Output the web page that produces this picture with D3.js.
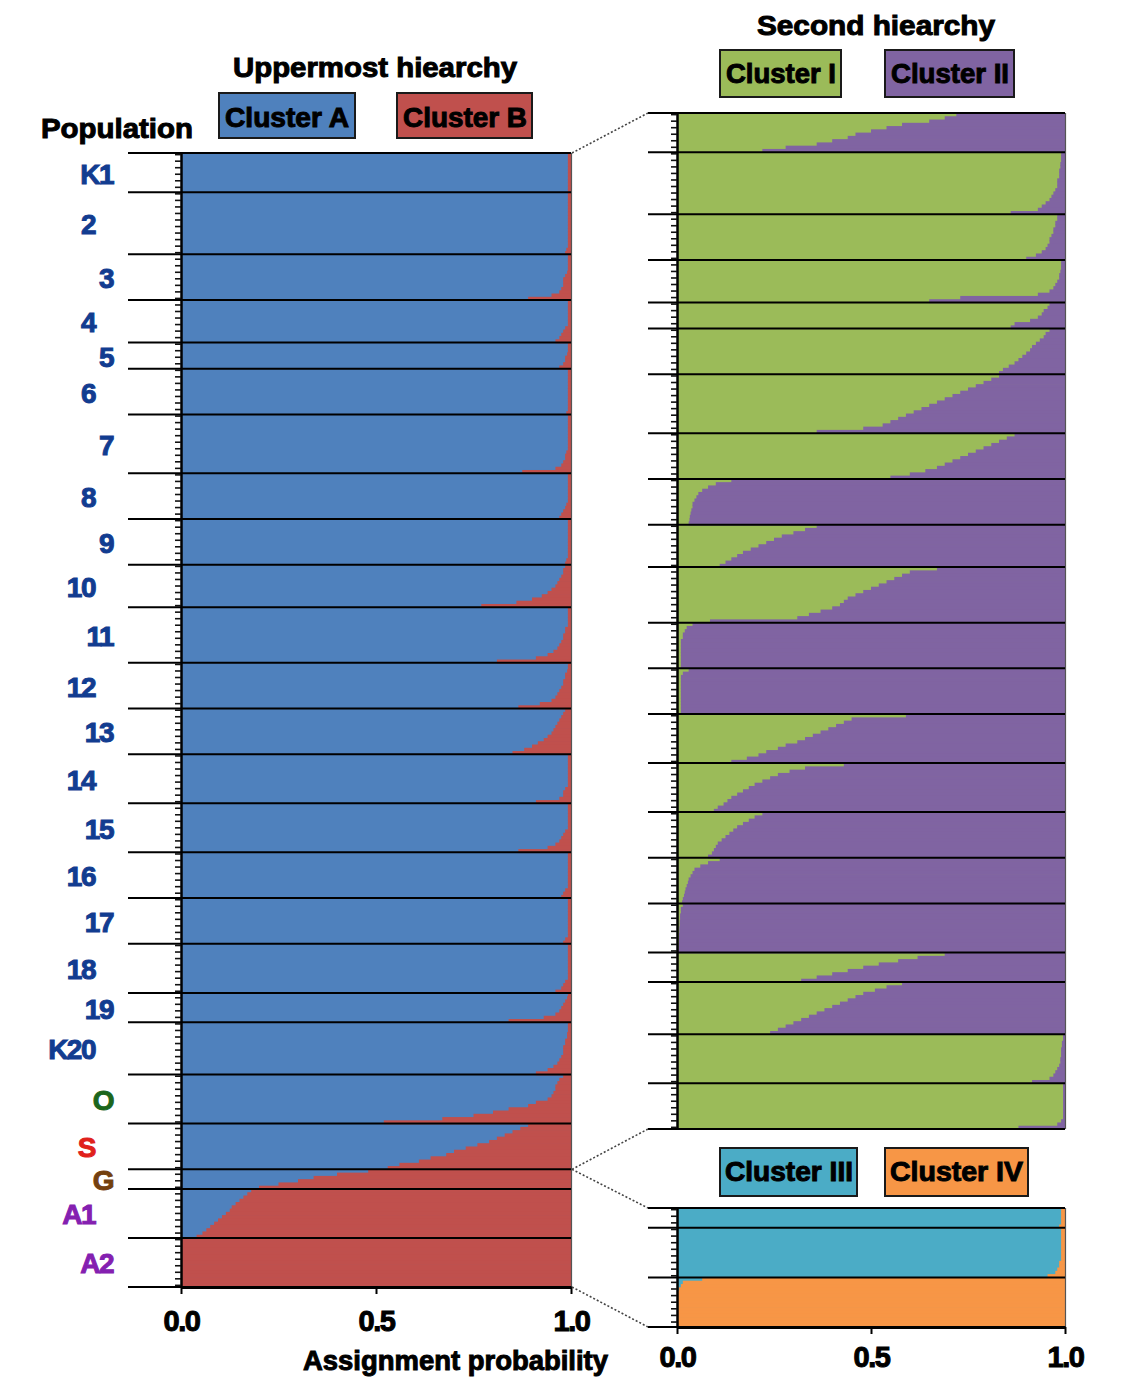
<!DOCTYPE html>
<html><head><meta charset="utf-8">
<script src="https://cdn.jsdelivr.net/npm/d3@7"></script>
<style>
body{margin:0;background:#fff;}
svg{display:block;}
text{font-family:"Liberation Sans",Arial,sans-serif;font-weight:bold;}
</style>
</head><body>
<svg id="chart" width="1143" height="1379"></svg>
<script>
// ---------------- DATA ----------------
const populations = ["K1","2","3","4","5","6","7","8","9","10","11","12","13","14","15","16","17","18","19","K20","O","S","G","A1","A2"];

// Uppermost hierarchy: membership in Cluster B per individual (rest = Cluster A), sorted within population
const clusterB = [
  [.008,.008,.008,.008,.008,.008,.008,.008,.008,.008,.008,.008],
  [.008,.008,.008,.008,.008,.008,.008,.008,.008,.008,.008,.008,.008,.008,.008,.008,.008,.012,.015],
  [.008,.008,.008,.008,.008,.01,.015,.02,.02,.02,.025,.03,.05,.11],
  [.008,.008,.008,.008,.008,.008,.008,.008,.015,.02,.025,.03,.04],
  [.008,.008,.008,.01,.015,.015,.02,.03],
  [.008,.008,.008,.008,.008,.008,.008,.008,.008,.008,.008,.008,.008,.012],
  [.008,.008,.008,.008,.008,.008,.008,.008,.008,.008,.008,.012,.015,.015,.02,.025,.04,.125],
  [.008,.008,.008,.008,.008,.008,.008,.008,.008,.012,.015,.02,.025,.03],
  [.008,.008,.008,.008,.008,.008,.008,.008,.008,.008,.008,.008,.012,.015],
  [.015,.02,.02,.025,.03,.035,.04,.05,.06,.075,.1,.14,.23],
  [.008,.008,.008,.008,.008,.008,.015,.015,.02,.02,.025,.03,.035,.045,.06,.09,.19],
  [.008,.008,.01,.015,.015,.02,.02,.025,.03,.035,.04,.05,.08,.135],
  [.015,.02,.025,.03,.035,.04,.045,.05,.06,.07,.085,.1,.12,.15],
  [.008,.008,.008,.008,.008,.008,.008,.008,.008,.008,.015,.02,.02,.03,.09],
  [.008,.008,.008,.008,.008,.008,.008,.008,.015,.02,.025,.03,.04,.06,.135],
  [.008,.008,.008,.008,.008,.008,.008,.008,.008,.008,.008,.015,.02,.025],
  [.008,.008,.008,.008,.008,.008,.008,.008,.008,.008,.008,.008,.015,.02],
  [.008,.008,.008,.008,.008,.008,.008,.008,.008,.008,.008,.015,.02,.025,.04],
  [.008,.01,.015,.02,.025,.03,.04,.07,.16],
  [.008,.008,.008,.01,.01,.015,.015,.02,.02,.02,.025,.03,.035,.045,.06,.09],
  [.02,.03,.035,.04,.04,.045,.05,.06,.09,.11,.16,.2,.25,.33,.48],
  [.11,.13,.15,.17,.19,.21,.24,.27,.3,.32,.36,.39,.44,.47],
  [.52,.6,.66,.7,.75,.8],
  [.82,.83,.84,.85,.86,.87,.875,.885,.895,.905,.915,.925,.935,.945,.96],
  [1,1,1,1,1,1,1,1,1,1,1,1,1,1,1]
];

// Second hierarchy (K1..S): membership in Cluster II (rest = Cluster I)
const clusterII = [
  [.28,.31,.35,.42,.46,.5,.54,.56,.6,.64,.72,.78],
  [.01,.01,.01,.012,.012,.015,.015,.015,.02,.02,.02,.025,.03,.035,.04,.05,.06,.07,.14],
  [.02,.02,.025,.025,.03,.03,.035,.04,.04,.045,.05,.06,.075,.1],
  [.01,.01,.01,.012,.015,.015,.02,.025,.03,.04,.07,.27,.35],
  [.04,.045,.055,.06,.07,.09,.13,.14],
  [.04,.05,.055,.065,.075,.085,.09,.1,.11,.12,.13,.145,.16,.17],
  [.17,.19,.21,.23,.25,.27,.29,.31,.33,.35,.37,.39,.41,.43,.45,.47,.52,.64],
  [.13,.15,.17,.19,.21,.23,.25,.27,.29,.31,.33,.36,.4,.45],
  [.86,.9,.92,.935,.945,.95,.955,.96,.96,.963,.965,.967,.968,.97],
  [.64,.67,.7,.73,.75,.77,.79,.81,.83,.845,.86,.875,.89],
  [.33,.4,.42,.44,.46,.48,.5,.52,.54,.56,.57,.58,.6,.63,.66,.69,.915],
  [.96,.975,.98,.985,.985,.99,.99,.99,.99,.99,.99,.99,.99,.99],
  [.97,.985,.99,.99,.99,.99,.99,.99,.99,.99,.99,.99,.99,.99],
  [.41,.55,.57,.59,.61,.63,.65,.67,.69,.72,.74,.77,.79,.82,.86],
  [.57,.67,.71,.74,.76,.78,.8,.815,.83,.845,.86,.87,.88,.895,.905],
  [.78,.8,.815,.83,.845,.855,.865,.875,.885,.895,.9,.905,.91,.92],
  [.89,.92,.94,.955,.96,.965,.97,.972,.975,.978,.98,.982,.985,.987],
  [.985,.99,.99,.992,.992,.993,.993,.994,.994,.995,.995,.995,.996,.996,.997],
  [.31,.38,.43,.48,.52,.56,.6,.64,.68],
  [.42,.46,.49,.52,.54,.56,.58,.6,.62,.64,.66,.68,.7,.72,.74,.76],
  [.005,.005,.008,.008,.01,.01,.01,.012,.012,.015,.02,.025,.03,.04,.085],
  [.005,.005,.005,.005,.005,.005,.005,.005,.005,.005,.005,.01,.02,.12]
];

// Second hierarchy (G, A1, A2): membership in Cluster IV (rest = Cluster III)
const clusterIV = [
  [.01,.01,.01,.01,.01,.015],
  [.01,.01,.01,.01,.01,.01,.01,.01,.01,.01,.015,.015,.02,.025,.045],
  [.935,.985,.99,.995,1,1,1,1,1,1,1,1,1,1,1]
];

const upperLegend = ["Cluster A","Cluster B"];
const secondLegendTop = ["Cluster I","Cluster II"];
const secondLegendBottom = ["Cluster III","Cluster IV"];
const probTicks = [0, 0.5, 1];
const probTickLabels = ["0.0","0.5","1.0"];

// ---------------- STYLE ----------------
const C = {A:"#4f81bd", B:"#c0504d", I:"#9bbb59", II:"#8064a2", III:"#4bacc6", IV:"#f79646"};
function labelColor(p){
  if (p === "O") return "#1c661c";
  if (p === "S") return "#e0211b";
  if (p === "G") return "#74400f";
  if (p === "A1" || p === "A2") return "#8420b0";
  return "#123c90";
}

const svg = d3.select("#chart");

function flatten(arrs, popIdx){
  const out = [];
  arrs.forEach((a,k)=>a.forEach(q=>out.push({pop:popIdx[k], q})));
  return out;
}
const leftInd = flatten(clusterB, d3.range(populations.length));
const topInd  = flatten(clusterII, d3.range(22));
const botInd  = flatten(clusterIV, [22,23,24]);

const xL = d3.scaleLinear().domain([0,1]).range([181,571]);
const xR = d3.scaleLinear().domain([0,1]).range([677,1065]);
const yL  = d3.scaleBand().domain(d3.range(leftInd.length)).range([153,1287]);
const yRT = d3.scaleBand().domain(d3.range(topInd.length)).range([113,1129]);
const yRB = d3.scaleBand().domain(d3.range(botInd.length)).range([1208,1327]);

function bounds(ind){
  const b = [];
  ind.forEach((d,i)=>{ if(i===0 || ind[i-1].pop!==d.pop) b.push({pop:d.pop, start:i}); });
  b.forEach((d,k)=>{ d.end = (k<b.length-1) ? b[k+1].start : ind.length; });
  return b;
}

function panel(ind, y, x, c1, c2, sepX0){
  const g = svg.append("g");
  const [y0,y1] = y.range();
  g.append("rect").attr("x",x(0)).attr("y",y0).attr("width",x(1)-x(0)).attr("height",y1-y0).attr("fill",c1);
  g.selectAll("rect.c2").data(ind).join("rect").attr("class","c2")
    .attr("x", d=>x(1-d.q))
    .attr("y", (d,i)=>y(i))
    .attr("width", d=>x(1)-x(1-d.q))
    .attr("height", (d,i)=> i<ind.length-1 ? y.bandwidth()+0.7 : y.bandwidth())
    .attr("fill", c2);
  g.append("line").attr("x1",x(1)+0.5).attr("x2",x(1)+0.5).attr("y1",y0).attr("y2",y1)
    .attr("stroke","#555").attr("stroke-width",1.2);
  const ax = g.append("g").attr("transform",`translate(${x(0)},0)`)
    .call(d3.axisLeft(y).tickValues(d3.range(0,ind.length,2)).tickSize(6).tickSizeOuter(0).tickFormat(""));
  ax.select(".domain").attr("stroke","#000").attr("stroke-width",2.5);
  ax.selectAll(".tick line").attr("stroke","#111").attr("stroke-width",1.6);
  const b = bounds(ind);
  const ys = b.map(d=>y(d.start)).concat([y1]);
  g.selectAll("line.sep").data(ys).join("line").attr("class","sep")
    .attr("x1",sepX0).attr("x2",x(1)).attr("y1",d=>d).attr("y2",d=>d)
    .attr("stroke","#000").attr("stroke-width",2);
  return b;
}

// ---------------- PANELS ----------------
const leftBounds = panel(leftInd, yL, xL, C.A, C.B, 128);
panel(topInd, yRT, xR, C.I, C.II, 648);
panel(botInd, yRB, xR, C.III, C.IV, 648);

// population labels (staggered)
svg.append("g").selectAll("text").data(leftBounds).join("text")
  .attr("x",(d,k)=> k%2===0 ? 113 : 95)
  .attr("y",d=> (yL(d.start) + (d.end<leftInd.length ? yL(d.end) : yL.range()[1]))/2 + 11)
  .attr("text-anchor","end")
  .attr("font-size",28)
  .attr("fill",d=>labelColor(populations[d.pop]))
  .attr("stroke",d=>labelColor(populations[d.pop]))
  .attr("stroke-width",1)
  .attr("letter-spacing",-1.5)
  .text(d=>populations[d.pop]);

// bottom axes
function bottomAxis(x, yPos, pad){
  const ax = svg.append("g").attr("transform",`translate(0,${yPos})`)
    .call(d3.axisBottom(x).tickValues(probTicks).tickFormat((d,i)=>probTickLabels[i]).tickSize(7).tickSizeOuter(0).tickPadding(pad));
  ax.select(".domain").attr("stroke","#000").attr("stroke-width",3);
  ax.selectAll(".tick line").attr("stroke","#000").attr("stroke-width",2);
  ax.selectAll(".tick text").attr("font-size",29).attr("fill","#000").attr("stroke","#000").attr("stroke-width",1)
    .attr("font-family","'Liberation Sans',Arial,sans-serif").attr("font-weight","bold").attr("letter-spacing",-1.5);
}
bottomAxis(xL, 1287, 16);
bottomAxis(xR, 1327, 12);

// connectors (dotted)
const gStart = leftBounds.find(d=>d.pop===22).start;
const conn = [
  [xL(1)+1, yL.range()[0], 648, yRT.range()[0]],
  [xL(1)+1, yL(gStart), 648, yRT.range()[1]],
  [xL(1)+1, yL(gStart), 648, yRB.range()[0]],
  [xL(1)+1, yL.range()[1], 648, yRB.range()[1]]
];
svg.append("g").selectAll("line").data(conn).join("line")
  .attr("x1",d=>d[0]).attr("y1",d=>d[1]).attr("x2",d=>d[2]).attr("y2",d=>d[3])
  .attr("stroke","#444").attr("stroke-width",1.6).attr("stroke-dasharray","2,2");

// titles
function txt(s, x, y, len, size){
  return svg.append("text").attr("x",x).attr("y",y).attr("font-size",size||28)
    .attr("fill","#000").attr("stroke","#000").attr("stroke-width",1)
    .attr("textLength",len).attr("lengthAdjust","spacingAndGlyphs").text(s);
}
txt("Uppermost hiearchy", 233, 77, 284);
txt("Second hiearchy", 757, 35, 238);
txt("Population", 41, 138, 152);
txt("Assignment probability", 303, 1370, 305);

// legends
function legendBox(label, fill, x0, x1, y0, y1, tx0, tx1, base){
  svg.append("rect").attr("x",x0).attr("y",y0).attr("width",x1-x0).attr("height",y1-y0)
    .attr("fill",fill).attr("stroke","#1a1a1a").attr("stroke-width",2);
  txt(label, tx0, base, tx1-tx0, 28);
}
legendBox(upperLegend[0], C.A, 219, 355, 93, 138, 225, 349, 127);
legendBox(upperLegend[1], C.B, 397, 532, 93, 138, 403, 527, 127);
legendBox(secondLegendTop[0], C.I, 720, 841, 50, 97, 726, 836, 83);
legendBox(secondLegendTop[1], C.II, 885, 1014, 50, 97, 891, 1009, 83);
legendBox(secondLegendBottom[0], C.III, 720, 857, 1148, 1196, 725, 853, 1181);
legendBox(secondLegendBottom[1], C.IV, 885, 1028, 1148, 1196, 890, 1023, 1181);
</script>
</body></html>
